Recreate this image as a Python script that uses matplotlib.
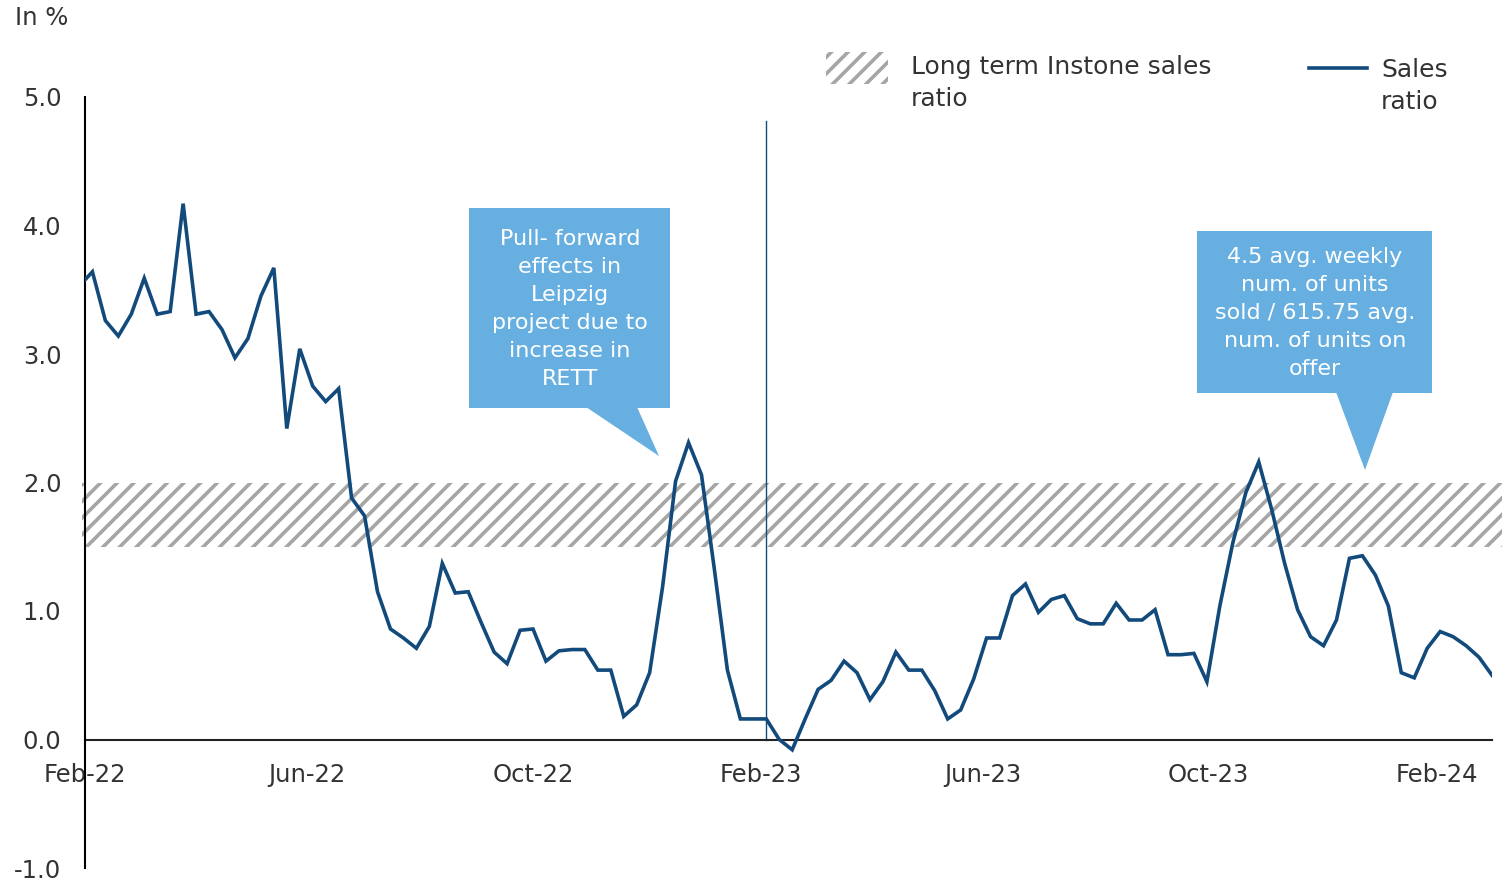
import numpy as np
import pandas as pd
import matplotlib
matplotlib.use("Agg")
import matplotlib.pyplot as plt
import matplotlib.dates as mdates
from matplotlib.patches import Rectangle, Polygon
from matplotlib.lines import Line2D
from matplotlib.transforms import blended_transform_factory

# weekly sales ratio in % (first point lies just before the axis start)
week_start = "2022-01-29"
sales_ratio = [
    3.53, 3.64, 3.26, 3.14, 3.31, 3.59, 3.31, 3.33, 4.17, 3.31,
    3.33, 3.19, 2.97, 3.12, 3.45, 3.67, 2.42, 3.04, 2.75, 2.63,
    2.73, 1.88, 1.74, 1.15, 0.86, 0.79, 0.71, 0.88, 1.37, 1.14,
    1.15, 0.91, 0.68, 0.59, 0.85, 0.86, 0.61, 0.69, 0.70, 0.70,
    0.54, 0.54, 0.18, 0.27, 0.52, 1.19, 2.01, 2.31, 2.06, 1.32,
    0.54, 0.16, 0.16, 0.16, 0.00, -0.08, 0.16, 0.39, 0.46, 0.61,
    0.52, 0.31, 0.45, 0.68, 0.54, 0.54, 0.38, 0.16, 0.23, 0.47,
    0.79, 0.79, 1.12, 1.21, 0.99, 1.09, 1.12, 0.94, 0.90, 0.90,
    1.06, 0.93, 0.93, 1.01, 0.66, 0.66, 0.67, 0.45, 1.04, 1.53,
    1.92, 2.16, 1.79, 1.37, 1.01, 0.80, 0.73, 0.93, 1.41, 1.43,
    1.28, 1.04, 0.52, 0.48, 0.71, 0.84, 0.80, 0.73, 0.64, 0.50,
]
dates = pd.date_range(week_start, periods=len(sales_ratio), freq="7D")

# long term Instone sales ratio band
band_low, band_high = 1.5, 2.0

tick_dates = pd.to_datetime(["2022-02-01", "2022-06-01", "2022-10-01", "2023-02-01",
                             "2023-06-01", "2023-10-01", "2024-02-01"])
marker_date = pd.Timestamp("2023-02-04")

note1 = "Pull- forward\neffects in\nLeipzig\nproject due to\nincrease in\nRETT"
note2 = "4.5 avg. weekly\nnum. of units\nsold / 615.75 avg.\nnum. of units on\noffer"

line_col = "#134a7c"
box_col = "#66afe0"
hatch_col = "#a6a6a6"
text_col = "#333333"

W, H = 1506, 882
plt.rcParams["hatch.linewidth"] = 2.6
plt.rcParams["font.family"] = "DejaVu Sans"


def fp(x, y):
    # pixel (from top-left) -> figure fraction
    return (x / W, 1 - y / H)


fig = plt.figure(figsize=(W / 100, H / 100), dpi=100)
ax = fig.add_axes([85 / W, 1 - 868 / H, (1492 - 85) / W, (868 - 97) / H])

ax.set_xlim(pd.Timestamp("2022-02-01"), pd.Timestamp("2024-03-02"))
ax.set_ylim(-1, 5)

# hatched band slightly wider than the axes
trans = blended_transform_factory(ax.transAxes, ax.transData)
ax.add_patch(Rectangle((-0.002, band_low), 1.009, band_high - band_low, transform=trans,
                       facecolor="white", edgecolor=hatch_col, hatch="//", linewidth=0,
                       clip_on=False, zorder=1))

ax.plot(dates, sales_ratio, color=line_col, linewidth=2.6, zorder=3, solid_joinstyle="miter")
ax.plot([marker_date, marker_date], [0, 4.81], color=line_col, linewidth=1, zorder=2)

for s in ["top", "right"]:
    ax.spines[s].set_visible(False)
ax.spines["bottom"].set_position(("data", 0))
ax.spines["bottom"].set_color("#222222")
ax.spines["bottom"].set_linewidth(1.5)
ax.spines["left"].set_color("black")
ax.spines["left"].set_linewidth(1.5)
ax.spines["bottom"].set_zorder(2)

ax.set_xticks(tick_dates)
ax.xaxis.set_major_formatter(mdates.DateFormatter("%b-%y"))
ax.set_yticks(np.arange(-1, 5.01, 1))
ax.yaxis.set_major_formatter(matplotlib.ticker.FormatStrFormatter("%.1f"))
ax.tick_params(axis="x", length=0, pad=17, labelsize=17.5, labelcolor=text_col)
ax.tick_params(axis="y", length=0, pad=17, labelsize=17.5, labelcolor=text_col)

fig.text(*fp(15, 18), "In %", fontsize=17.5, color=text_col, va="center", ha="left")

# legend
fig.patches.append(Rectangle(fp(826, 84), 62 / W, 32 / H, transform=fig.transFigure,
                             facecolor="white", edgecolor=hatch_col, hatch="//", linewidth=0))
fig.text(*fp(911, 83), "Long term Instone sales\nratio", fontsize=18, color=text_col,
         va="center", ha="left", linespacing=1.42)
fig.lines.append(Line2D([1309 / W, 1367 / W], [1 - 68 / H, 1 - 68 / H], transform=fig.transFigure,
                        color=line_col, linewidth=2.6))
fig.text(*fp(1381, 86), "Sales\nratio", fontsize=18, color=text_col,
         va="center", ha="left", linespacing=1.42)


def callout(box, tri, txt, cx, cy):
    x0, y0, x1, y1 = box
    fig.patches.append(Rectangle(fp(x0, y1), (x1 - x0) / W, (y1 - y0) / H,
                                 transform=fig.transFigure, facecolor=box_col, edgecolor="none"))
    fig.patches.append(Polygon([fp(*p) for p in tri], closed=True, transform=fig.transFigure,
                               facecolor=box_col, edgecolor="none"))
    fig.text(*fp(cx, cy), txt, fontsize=16, color="white", ha="center", va="center",
             multialignment="center", linespacing=1.5)


callout((469, 208, 670, 408), [(586, 407), (637, 407), (659, 456)], note1, 570, 309)
callout((1197, 231, 1432, 393), [(1336, 392), (1393, 392), (1365, 470)], note2, 1315, 313)

fig.savefig("out.png", dpi=100)
